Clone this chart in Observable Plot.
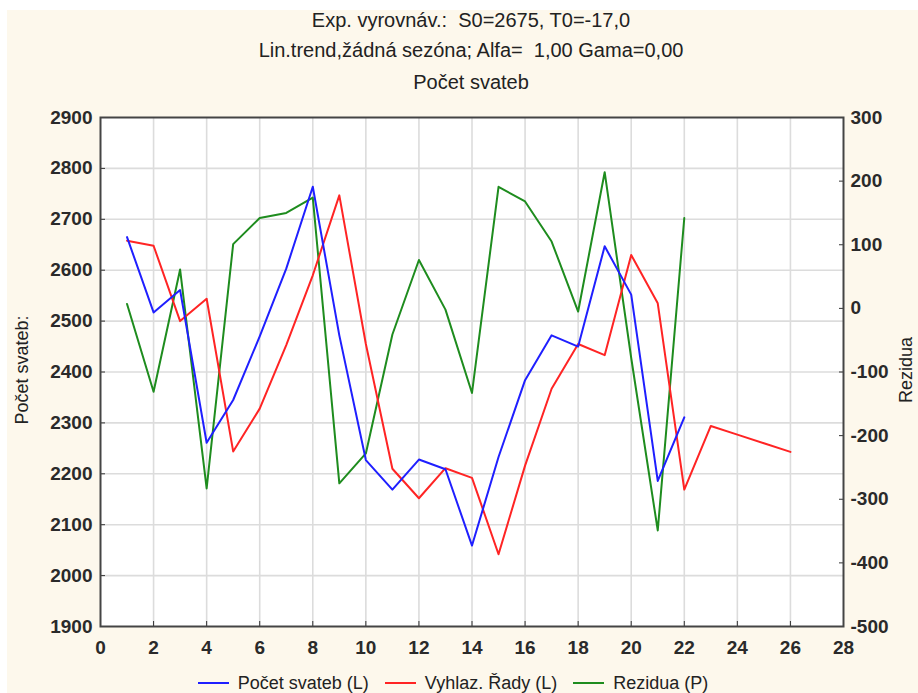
<!DOCTYPE html>
<html>
<head>
<meta charset="utf-8">
<script src="https://cdn.jsdelivr.net/npm/d3@7"></script>
<script src="https://cdn.jsdelivr.net/npm/@observablehq/plot@0.6"></script>
<style>
  html, body { margin: 0; padding: 0; background: #ffffff; overflow: hidden; width: 918px; height: 693px; }
  body { font-family: "Liberation Sans", Arial, sans-serif; color: #222; }
  #bg { position: absolute; left: 7px; top: 10px; width: 911px; height: 683px; background: #fdf8ec; }
  .title { position: absolute; left: 0; width: 942px; text-align: center; font-size: 20px; line-height: 24px; white-space: nowrap; }
  .rot { position: absolute; transform: translate(-50%, -50%) rotate(-90deg); font-size: 18px; white-space: nowrap; }
  #chart { position: absolute; left: 0; top: 100px; }
  #legend { position: absolute; left: 0; top: 672px; width: 906px; text-align: center; font-size: 18px; line-height: 22px; white-space: nowrap; }
  #legend .item { display: inline-block; margin: 0 8px; }
  #legend .sw { display: inline-block; width: 31px; height: 2px; vertical-align: middle; margin-right: 9px; position: relative; top: -1px; }
</style>
</head>
<body>
<div id="bg"></div>
<div class="title" style="top:8px">Exp. vyrovnáv.:&nbsp; S0=2675, T0=-17,0</div>
<div class="title" style="top:38px">Lin.trend,žádná sezóna; Alfa=&nbsp; 1,00 Gama=0,00</div>
<div class="title" style="top:70px">Počet svateb</div>
<div class="rot" style="left:22px; top:370px">Počet svateb:</div>
<div class="rot" style="left:906px; top:370px">Rezidua</div>
<div id="chart"></div>
<div id="legend"></div>
<script>
// ---- data ----
const periods = [1,2,3,4,5,6,7,8,9,10,11,12,13,14,15,16,17,18,19,20,21,22];
const forecastPeriods = [1,2,3,4,5,6,7,8,9,10,11,12,13,14,15,16,17,18,19,20,21,22,23,24,25,26];
const pocetSvateb = [2665,2517,2561,2261,2345,2470,2603,2764,2472,2227,2169,2228,2209,2059,2233,2384,2472,2450,2647,2552,2186,2311];
const vyhlazeneRady = [2658,2648,2500,2544,2244,2328,2453,2590,2747,2455,2210,2152,2211,2192,2042,2216,2367,2455,2433,2630,2535,2169,2294,2277,2260,2243];
const rezidua = [7,-131,61,-283,101,142,150,174,-275,-228,-41,76,-2,-133,191,168,105,-5,214,-78,-349,142];
const xTicks = [0,2,4,6,8,10,12,14,16,18,20,22,24,26,28];
const leftTicks = [1900,2000,2100,2200,2300,2400,2500,2600,2700,2800,2900];
const rightTicks = [-500,-400,-300,-200,-100,0,100,200,300];
const seriesNames = ["Počet svateb (L)", "Vyhlaz. Řady (L)", "Rezidua (P)"];
const seriesColors = ["#1f1fff", "#ff2424", "#1e8c1e"];

// right axis (P) shares the plot with the left axis (L): map its domain onto the left one
const leftDomain = [1900, 2900];
const rightDomain = [-500, 300];
const rightToLeft = d3.scaleLinear().domain(rightDomain).range(leftDomain);

const blueData = periods.map((t, i) => ({t, v: pocetSvateb[i]}));
const redData = forecastPeriods.map((t, i) => ({t, v: vyhlazeneRady[i]}));
const greenData = periods.map((t, i) => ({t, v: rightToLeft(rezidua[i])}));

const chart = Plot.plot({
  width: 918,
  height: 570,
  marginLeft: 100,
  marginRight: 75,
  marginTop: 17,
  marginBottom: 44,
  style: { background: "transparent", fontFamily: "Liberation Sans, Arial, sans-serif", fontSize: "19px", color: "#2a2a2a", overflow: "visible" },
  x: { domain: [0, 28] },
  y: { domain: leftDomain },
  marks: [
    Plot.frame({ fill: "white", stroke: null }),
    Plot.gridX(xTicks.slice(1, -1), { stroke: "#dcdcdc", strokeOpacity: 1, strokeWidth: 1.6 }),
    Plot.gridY(leftTicks.slice(1, -1), { stroke: "#dcdcdc", strokeOpacity: 1, strokeWidth: 1.6 }),
    Plot.axisX(xTicks, { anchor: "bottom", tickSize: -5, tickPadding: 19, label: null, fontWeight: "bold", stroke: "#333",
      tickFormat: v => String(v) }),
    Plot.axisY(leftTicks, { anchor: "left", tickSize: -5, tickPadding: 13, label: null, fontWeight: "bold", stroke: "#333",
      tickFormat: v => String(v) }),
    Plot.axisY(rightTicks.map(r => rightToLeft(r)), { anchor: "right", tickSize: -5, tickPadding: 12, label: null, fontWeight: "bold", stroke: "#333",
      tickFormat: v => String(Math.round(rightToLeft.invert(v))) }),
    Plot.line(greenData, { x: "t", y: "v", stroke: seriesColors[2], strokeWidth: 2 }),
    Plot.line(redData, { x: "t", y: "v", stroke: seriesColors[1], strokeWidth: 2 }),
    Plot.line(blueData, { x: "t", y: "v", stroke: seriesColors[0], strokeWidth: 2 }),
    Plot.frame({ stroke: "#444", strokeWidth: 2 })
  ]
});
document.getElementById("chart").appendChild(chart);

const legend = document.getElementById("legend");
seriesNames.forEach((name, i) => {
  const item = document.createElement("span");
  item.className = "item";
  const sw = document.createElement("span");
  sw.className = "sw";
  sw.style.background = seriesColors[i];
  item.appendChild(sw);
  item.appendChild(document.createTextNode(name));
  legend.appendChild(item);
});
</script>
</body>
</html>
